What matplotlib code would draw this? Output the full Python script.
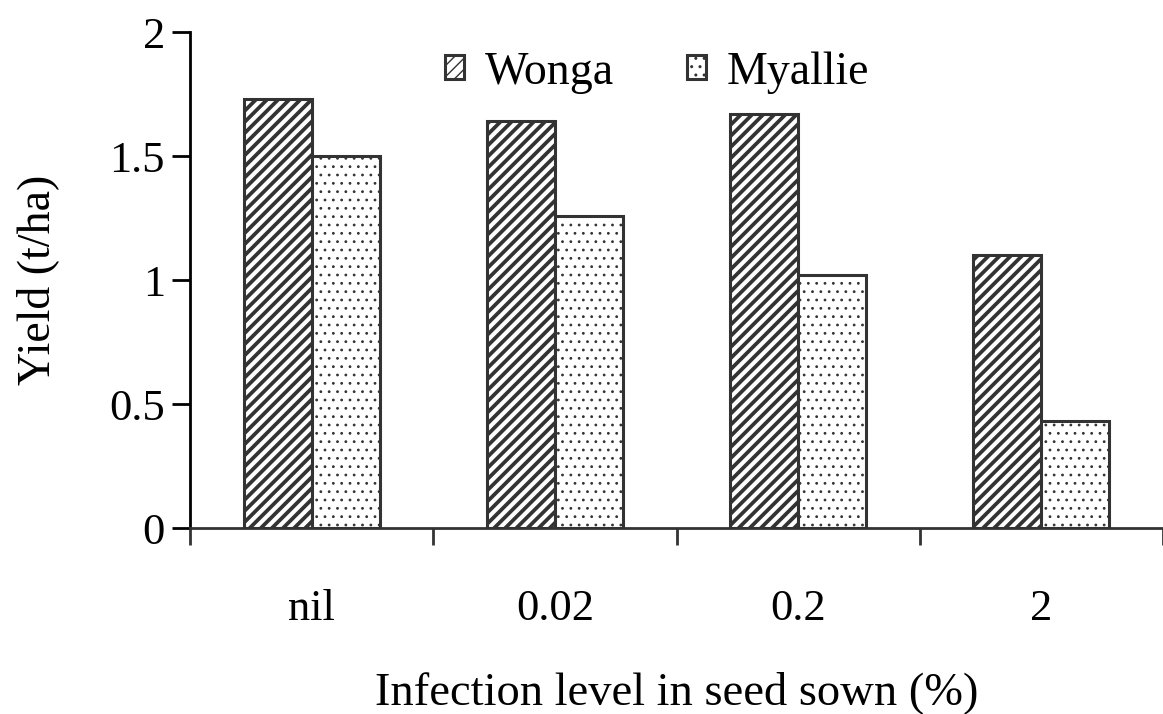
import matplotlib
matplotlib.use('Agg')
import matplotlib.pyplot as plt
import numpy as np

# data
levels = ['nil', '0.02', '0.2', '2']
wonga = [1.73, 1.64, 1.67, 1.10]
myallie = [1.50, 1.26, 1.02, 0.43]

plt.rcParams['font.family'] = ['Liberation Serif', 'DejaVu Serif']
plt.rcParams['hatch.color'] = 'black'

fig = plt.figure(figsize=(11.63, 7.14), dpi=100)
ax = fig.add_axes([0.1634, 0.2605, 0.8366, 0.6945])

x = np.arange(len(levels))
w = 0.28
edge = '#333333'

with plt.rc_context({'hatch.linewidth': 2.7}):
    ax.bar(x - w / 2, wonga, w, color='white', edgecolor=edge, linewidth=2.2,
           hatch='///', label='Wonga')
with plt.rc_context({'hatch.linewidth': 0.8, 'hatch.color': '#333333'}):
    ax.bar(x + w / 2, myallie, w, color='white', edgecolor=edge, linewidth=2.2,
           hatch='..', label='Myallie')

ax.set_xlim(-0.5, len(levels) - 0.5)
ax.set_ylim(0, 2)

# ticks between groups, labels in the middle
ax.set_xticks(np.arange(len(levels) + 1) - 0.5)
ax.set_xticklabels([])
ax.set_xticks(x, minor=True)
ax.set_xticklabels(levels, minor=True)
ax.tick_params(axis='x', which='major', direction='out', length=12, width=2, color=edge)
ax.tick_params(axis='x', which='minor', length=0, pad=44, labelsize=32)

ax.set_yticks([0, 0.5, 1, 1.5, 2])
ax.set_yticklabels(['0', '0.5', '1', '1.5', '2'])
ax.tick_params(axis='y', direction='out', length=13, width=2, color='black',
               pad=5, labelsize=32)

for s in ['top', 'right']:
    ax.spines[s].set_visible(False)
ax.spines['left'].set_linewidth(2)
ax.spines['left'].set_color('black')
ax.spines['bottom'].set_linewidth(2)
ax.spines['bottom'].set_color(edge)

ax.set_ylabel('Yield (t/ha)', fontsize=33, labelpad=36)
ax.set_xlabel('Infection level in seed sown (%)', fontsize=33.5, labelpad=30)

leg = ax.legend(loc='upper center', bbox_to_anchor=(0.48, 1.045), ncol=2,
                frameon=False, fontsize=33, handlelength=0.42, handleheight=0.42,
                handletextpad=0.45, columnspacing=1.6)

fig.savefig('out.png', dpi=100)
